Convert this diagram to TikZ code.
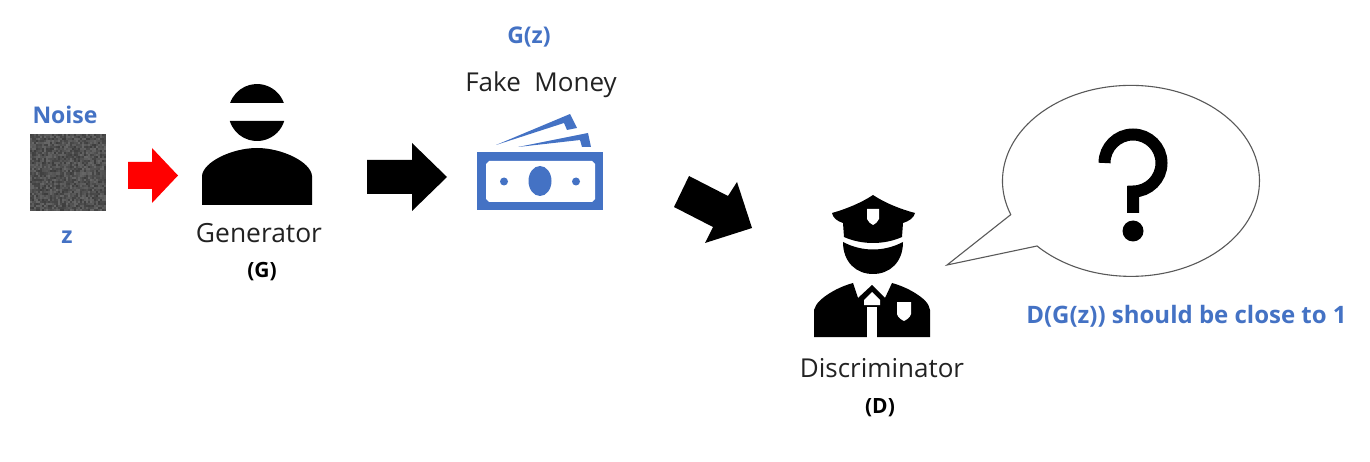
\documentclass[tikz,border=0pt]{standalone}
\usepackage{fontspec}
\setmainfont{Open Sans}
\definecolor{pblue}{HTML}{4472C4}
\definecolor{txt}{HTML}{222222}
\tikzset{
  x=1pt,y=1pt,
  bluelabel/.style={text=pblue,font=\fontsize{#1}{#1}\selectfont\bfseries,inner sep=0pt},
  blacklabel/.style={text=txt,font=\fontsize{#1}{#1}\selectfont,inner sep=0pt},
  boldlabel/.style={text=black,font=\fontsize{#1}{#1}\selectfont\bfseries,inner sep=0pt},
  glyph/.style={fill=black,draw=none},
  cutout/.style={fill=white,draw=none},
  moneyfill/.style={fill=pblue,draw=none}
}
\begin{document}
\begin{tikzpicture}
\useasboundingbox (0,0) rectangle (1370,-462);
% noise
\pgfmathsetseed{42}
\fill[black!68] (30,-134) rectangle (106,-211);
\foreach \i in {0,...,37}{\foreach \j in {0,...,37}{
  \pgfmathsetmacro{\g}{int(60+random(0,16))}
  \fill[black!\g] ({30+\i*2},{-134-\j*2.026}) rectangle ++(2,-2.026);
}}
\node[bluelabel=23] (noise) at (65,-115) {Noise};
\node[bluelabel=23] (zlab) at (67,-237) {z};
% red arrow
\fill[red] (128,-162) -- (152,-162) -- (152,-148) -- (178,-175.5) -- (152,-203) -- (152,-189) -- (128,-189) -- cycle;
% generator
\fill[glyph] (230.1,-103) arc (160.5:19.5:28.5) -- cycle;
\fill[glyph] (229.8,-121) arc (197.3:342.7:28.5) -- cycle;
\fill[glyph] (202,-205) -- (202,-176) .. controls (203,-162) and (232,-148) .. (257,-148)
  .. controls (282,-148) and (311,-162) .. (312,-176) -- (312,-205) -- cycle;
\node[blacklabel=26.4] (gen) at (259,-233) {Generator};
\node[boldlabel=21] (glab) at (262,-272) {(G)};
% arrow 2
\fill[glyph] (367,-160) -- (412,-160) -- (412,-143) -- (447,-177) -- (412,-211) -- (412,-194) -- (367,-194) -- cycle;
% money
\node[bluelabel=23] (gz) at (529,-37) {G(z)};
\node[blacklabel=26] (fake) at (541,-85) {Fake\ \ Money};
\fill[moneyfill] (477,-152) rectangle (603,-210);
\fill[cutout] (489,-161) -- (592,-161) -- (595,-164) -- (595,-199) -- (592,-202) -- (489,-202) -- (486,-199) -- (486,-164) -- cycle;
\fill[moneyfill] (540,-181) ellipse (11.5 and 15);
\fill[moneyfill] (504,-181.5) circle (4);
\fill[moneyfill] (576,-181.5) circle (4);
\fill[moneyfill] (496,-145) -- (570,-114) -- (577,-128) -- (567,-130) -- (564,-123) -- cycle;
\fill[moneyfill] (518,-147) -- (588,-133) -- (591,-147) -- (582,-147) -- (580,-140) -- cycle;
% diagonal arrow
\fill[glyph] (689,-176) -- (728,-196) -- (737,-182) -- (752,-228) -- (705,-243) -- (713,-227) -- (674,-207) -- cycle;
% police
\fill[glyph] (873,-195) .. controls (885,-203) and (900,-209) .. (915,-213)
  .. controls (914,-218) and (909,-221) .. (903,-223) -- (902,-237)
  .. controls (884,-245) and (862,-245) .. (844,-237) -- (843,-223)
  .. controls (837,-221) and (833,-218) .. (832,-213)
  .. controls (846,-209) and (861,-203) .. (873,-195) -- cycle;
\fill[cutout] (867,-209) -- (879,-209) -- (879,-219) .. controls (878,-222) and (875,-224) .. (873,-225) .. controls (871,-224) and (868,-222) .. (867,-219) -- cycle;
\fill[glyph] (843,-242) .. controls (862,-252) and (884,-252) .. (903,-242)
  .. controls (903,-262) and (890,-274) .. (873,-274)
  .. controls (856,-274) and (843,-262) .. (843,-242) -- cycle;
\fill[glyph] (814,-337) -- (814,-310) .. controls (816,-303) and (822,-298) .. (830,-293)
  .. controls (838,-288) and (846,-285) .. (853,-283) -- (858,-298) -- (872,-285) -- (885,-298) -- (892,-283)
  .. controls (899,-285) and (907,-288) .. (915,-293)
  .. controls (923,-298) and (929,-303) .. (930,-310) -- (930,-337) -- cycle;
\fill[cutout] (864,-300) -- (872,-292) -- (880,-300) -- (880,-305) -- (864,-305) -- cycle;
\fill[cutout] (867,-307) -- (877,-307) -- (877,-337.5) -- (867,-337.5) -- cycle;
\fill[cutout] (897,-302) -- (911,-302) -- (911,-314) .. controls (910,-318) and (906,-320) .. (904,-321) .. controls (902,-320) and (898,-318) .. (897,-314) -- cycle;
\node[blacklabel=26] (disc) at (882,-368) {Discriminator};
\node[boldlabel=21] (dlab) at (880,-408) {(D)};
% bubble
\draw[draw=black!65,line width=1.1pt,fill=white,line join=miter]
  (1037,-246) arc (-137:200.7:128.5 and 95.5) -- (947,-265) -- cycle;
% question mark
\draw[black,line width=12pt,line join=miter] (1104.5,-163) arc (180:-90:28.5) -- (1133,-213);
\fill[black] (1133,-231) circle (10.5);
\node[bluelabel=24] (verdict) at (1186.5,-316) {D(G(z)) should be close to 1};
\end{tikzpicture}
\end{document}
